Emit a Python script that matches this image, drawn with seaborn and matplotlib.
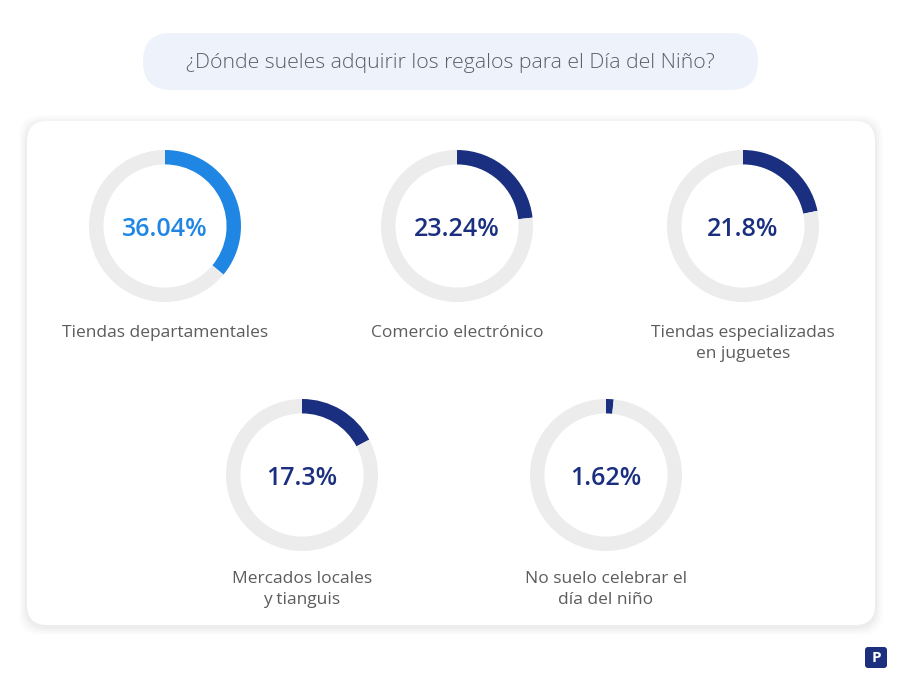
import matplotlib
matplotlib.use("Agg")
import matplotlib.pyplot as plt
import seaborn as sns
from matplotlib.patches import FancyBboxPatch

# data
title = "¿Dónde sueles adquirir los regalos para el Día del Niño?"
categories = [
    "Tiendas departamentales",
    "Comercio electrónico",
    "Tiendas especializadas\nen juguetes",
    "Mercados locales\ny tianguis",
    "No suelo celebrar el\ndía del niño",
]
values = [36.04, 23.24, 21.8, 17.3, 1.62]
value_labels = ["36.04%", "23.24%", "21.8%", "17.3%", "1.62%"]

sns.set_theme(style="white")
plt.rcParams["font.family"] = ["Open Sans", "DejaVu Sans"]

W, H = 900, 678
fig = plt.figure(figsize=(W / 100, H / 100), dpi=100)
fig.patch.set_facecolor("white")

# background layer in pixel coords (y down)
bg = fig.add_axes([0, 0, 1, 1])
bg.set_xlim(0, W)
bg.set_ylim(H, 0)
bg.axis("off")

# soft card shadow + card
for off, a in [(8, 0.012), (6, 0.015), (4, 0.02), (2, 0.025)]:
    bg.add_patch(FancyBboxPatch((27 - off, 121 - off + 2), 848 + 2 * off, 504 + 2 * off,
                                boxstyle="round,pad=0,rounding_size=22",
                                fc="black", ec="none", alpha=a))
bg.add_patch(FancyBboxPatch((27, 121), 848, 504, boxstyle="round,pad=0,rounding_size=20",
                            fc="white", ec="none"))

# title pill
bg.add_patch(FancyBboxPatch((143, 33), 615, 57, boxstyle="round,pad=0,rounding_size=28",
                            fc="#eef2fb", ec="none"))
bg.text(450, 63, title, ha="center", va="center", fontsize=15.3,
        color="#5a5e66", fontweight="light")

# logo
bg.add_patch(FancyBboxPatch((865, 647), 22, 21, boxstyle="round,pad=0,rounding_size=3",
                            fc="#1b2f7e", ec="none"))
bg.text(876, 658, "P", ha="center", va="center", fontsize=11, color="white",
        fontweight="bold")

centers = [(165, 226), (457, 226), (743, 226), (302, 475), (606, 475)]
label_y = [334, 334, 334, 580, 580]
colors = ["#1f87e3", "#1a2f80", "#1a2f80", "#1a2f80", "#1a2f80"]
R = 76

for (cx, cy), v, lab, vl, c, ly in zip(centers, values, categories, value_labels, colors, label_y):
    ax = fig.add_axes([(cx - R) / W, 1 - (cy + R) / H, 2 * R / W, 2 * R / H])
    ax.pie([v, 100 - v], colors=[c, "#ececec"], startangle=90, counterclock=False,
           radius=1, wedgeprops=dict(width=0.19, edgecolor="none"))
    ax.set_aspect("equal")
    ax.set_xlim(-1, 1)
    ax.set_ylim(-1, 1)
    ax.axis("off")
    ax.text(0, -0.05, vl, ha="center", va="center", fontsize=18, fontweight="semibold", color=c)
    bg.text(cx, ly - 9, lab, ha="center", va="top", fontsize=12.5, color="#5c5c5c",
            linespacing=1.4)

fig.savefig("out.png", dpi=100, facecolor="white")
